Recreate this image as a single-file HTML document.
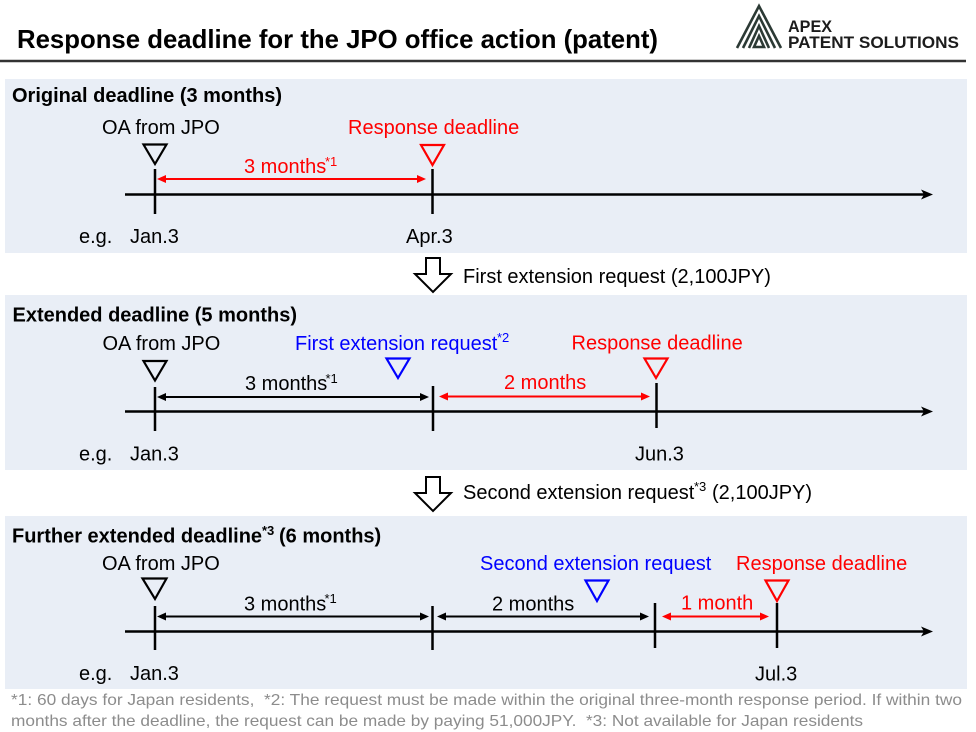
<!DOCTYPE html>
<html><head><meta charset="utf-8"><style>
html,body{margin:0;padding:0;background:#fff;}
svg{display:block;}
text{font-family:"Liberation Sans",Arial,sans-serif;}
</style></head><body>
<svg width="976" height="732" viewBox="0 0 976 732" xmlns="http://www.w3.org/2000/svg">
<rect width="976" height="732" fill="#fff"/>
<!-- Title -->
<text x="17" y="48" font-size="26" font-weight="bold" fill="#000" textLength="641" lengthAdjust="spacingAndGlyphs">Response deadline for the JPO office action (patent)</text>
<!-- Logo -->
<g fill="none" stroke="#2c3a35" stroke-width="2.6" stroke-linejoin="miter">
<polyline points="737,48 759,6 781,48"/>
<polyline points="743,48 759,16 775,48"/>
<polyline points="749,48 759,26 769,48"/>
<polygon points="754,47 759,36 764,47"/>
</g>
<text x="788" y="32" font-size="17" font-weight="bold" fill="#1c1c1c" textLength="44" lengthAdjust="spacingAndGlyphs">APEX</text>
<text x="788" y="48" font-size="17" font-weight="bold" fill="#1c1c1c" textLength="171" lengthAdjust="spacingAndGlyphs">PATENT SOLUTIONS</text>
<line x1="0" y1="61" x2="966" y2="61" stroke="#333" stroke-width="2.5"/>

<!-- Panels -->
<rect x="5" y="79" width="962" height="174" fill="#e9eef6"/>
<rect x="5" y="295" width="962" height="175" fill="#e9eef6"/>
<rect x="5" y="516" width="962" height="173" fill="#e9eef6"/>

<g font-size="20" fill="#000">
<!-- Panel 1 -->
<text x="12" y="102" font-weight="bold">Original deadline (3 months)</text>
<text x="102" y="134">OA from JPO</text>
<text x="348" y="134" fill="#ff0000">Response deadline</text>
<text x="244" y="173" fill="#ff0000">3 months</text>
<text x="325" y="166" font-size="13" fill="#ff0000">*1</text>
<text x="79" y="243">e.g.</text>
<text x="130" y="243">Jan.3</text>
<text x="406" y="243">Apr.3</text>

<!-- gap 1 -->
<text x="463" y="283">First extension request (2,100JPY)</text>

<!-- Panel 2 -->
<text x="12.5" y="321.5" font-weight="bold">Extended deadline (5 months)</text>
<text x="102.5" y="350">OA from JPO</text>
<text x="295" y="350" fill="#0000ff">First extension request</text>
<text x="497" y="342" font-size="13" fill="#0000ff">*2</text>
<text x="571.5" y="349.5" fill="#ff0000">Response deadline</text>
<text x="245" y="390">3 months</text>
<text x="325.5" y="383" font-size="13">*1</text>
<text x="504" y="389" fill="#ff0000">2 months</text>
<text x="79" y="460.5">e.g.</text>
<text x="130" y="460.5">Jan.3</text>
<text x="635" y="460.5">Jun.3</text>

<!-- gap 2 -->
<text x="463" y="499">Second extension request</text>
<text x="694" y="491" font-size="13">*3</text>
<text x="712" y="499">(2,100JPY)</text>

<!-- Panel 3 -->
<text x="12" y="542.5" font-weight="bold">Further extended deadline</text>
<text x="262" y="535" font-size="13" font-weight="bold">*3</text>
<text x="279" y="542.5" font-weight="bold">(6 months)</text>
<text x="102" y="570">OA from JPO</text>
<text x="480" y="570" fill="#0000ff">Second extension request</text>
<text x="736" y="570" fill="#ff0000">Response deadline</text>
<text x="244" y="610.5">3 months</text>
<text x="324.5" y="603" font-size="13">*1</text>
<text x="492" y="610.5">2 months</text>
<text x="681" y="609.5" fill="#ff0000">1 month</text>
<text x="79" y="680">e.g.</text>
<text x="130" y="680">Jan.3</text>
<text x="755" y="680.5">Jul.3</text>
</g>

<!-- Footnote -->
<text x="11" y="705" font-size="16" fill="#8c8c8c" textLength="951" lengthAdjust="spacingAndGlyphs">*1: 60 days for Japan residents,&#160; *2: The request must be made within the original three-month response period. If within two</text>
<text x="11" y="726" font-size="16" fill="#8c8c8c" textLength="852" lengthAdjust="spacingAndGlyphs">months after the deadline, the request can be made by paying 51,000JPY.&#160; *3: Not available for Japan residents</text>

<!-- Panel 1 graphics -->
<g stroke-width="2.5" stroke="#000">
<line x1="125" y1="194.5" x2="926" y2="194.5"/>
<line x1="155" y1="169" x2="155" y2="214"/>
<line x1="432.5" y1="169" x2="432.5" y2="214"/>
</g>
<polygon points="933,194.5 921,189.5 924,194.5 921,199.5" fill="#000"/>
<polygon points="143.5,144.5 166.5,144.5 155,164" fill="none" stroke="#000" stroke-width="2.2"/>
<polygon points="421,145 444,145 432.5,165" fill="none" stroke="#ff0000" stroke-width="2.2"/>
<line x1="163" y1="179" x2="420" y2="179" stroke="#ff0000" stroke-width="2"/>
<polygon points="157,179 166,175 166,183" fill="#ff0000"/>
<polygon points="426,179 417,175 417,183" fill="#ff0000"/>

<!-- gap arrows -->
<polygon points="426,258 440,258 440,274 451,274 433,292 415,274 426,274" fill="#fff" stroke="#000" stroke-width="2"/>
<polygon points="426,477 440,477 440,493 451,493 433,511 415,493 426,493" fill="#fff" stroke="#000" stroke-width="2"/>

<!-- Panel 2 graphics -->
<g stroke-width="2.5" stroke="#000">
<line x1="125" y1="411.5" x2="926" y2="411.5"/>
<line x1="155" y1="387" x2="155" y2="431"/>
<line x1="433" y1="386" x2="433" y2="431"/>
<line x1="656.5" y1="383" x2="656.5" y2="428"/>
</g>
<polygon points="933,411.5 921,406.5 924,411.5 921,416.5" fill="#000"/>
<polygon points="143.5,361 166.5,361 155,380.5" fill="none" stroke="#000" stroke-width="2.2"/>
<polygon points="386.5,358.5 409.5,358.5 398,378" fill="none" stroke="#0000ff" stroke-width="2.2"/>
<polygon points="644.5,358.5 667.5,358.5 656,378" fill="none" stroke="#ff0000" stroke-width="2.2"/>
<line x1="163" y1="397" x2="423" y2="397" stroke="#000" stroke-width="2"/>
<polygon points="157,397 166,393 166,401" fill="#000"/>
<polygon points="429,397 420,393 420,401" fill="#000"/>
<line x1="445" y1="396.5" x2="644" y2="396.5" stroke="#ff0000" stroke-width="2"/>
<polygon points="439,396.5 448,392.5 448,400.5" fill="#ff0000"/>
<polygon points="650,396.5 641,392.5 641,400.5" fill="#ff0000"/>

<!-- Panel 3 graphics -->
<g stroke-width="2.5" stroke="#000">
<line x1="125" y1="631.5" x2="926" y2="631.5"/>
<line x1="155" y1="606" x2="155" y2="650"/>
<line x1="432.5" y1="606" x2="432.5" y2="650"/>
<line x1="655" y1="603" x2="655" y2="648"/>
<line x1="777" y1="603" x2="777" y2="648"/>
</g>
<polygon points="933,631.5 921,626.5 924,631.5 921,636.5" fill="#000"/>
<polygon points="142.5,578.5 166.5,578.5 155,599" fill="none" stroke="#000" stroke-width="2.2"/>
<polygon points="585.5,580.5 608.5,580.5 597,601" fill="none" stroke="#0000ff" stroke-width="2.2"/>
<polygon points="765.5,580.5 788.5,580.5 777,601" fill="none" stroke="#ff0000" stroke-width="2.2"/>
<line x1="163" y1="616.5" x2="423" y2="616.5" stroke="#000" stroke-width="2"/>
<polygon points="157,616.5 166,612.5 166,620.5" fill="#000"/>
<polygon points="429,616.5 420,612.5 420,620.5" fill="#000"/>
<line x1="443" y1="616.5" x2="643" y2="616.5" stroke="#000" stroke-width="2"/>
<polygon points="437,616.5 446,612.5 446,620.5" fill="#000"/>
<polygon points="649,616.5 640,612.5 640,620.5" fill="#000"/>
<line x1="668" y1="616.5" x2="763" y2="616.5" stroke="#ff0000" stroke-width="2"/>
<polygon points="662,616.5 671,612.5 671,620.5" fill="#ff0000"/>
<polygon points="769,616.5 760,612.5 760,620.5" fill="#ff0000"/>
</svg>
</body></html>
